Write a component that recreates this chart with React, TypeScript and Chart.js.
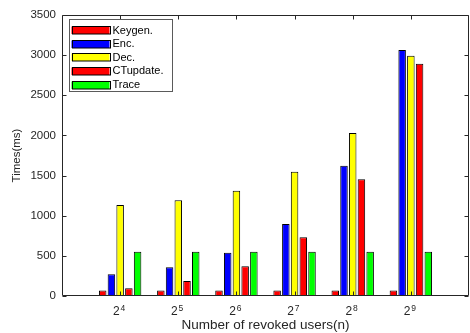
import React, { useEffect, useRef } from 'react';
import { Chart, registerables } from 'chart.js';

Chart.register(...registerables);

// x categories: exponents of 2 (empty edges pad the axis like the reference)
const exponents = ['', '4', '5', '6', '7', '8', '9', ''];
const keygen = [null, 70, 70, 70, 70, 70, 70, null];
const enc = [null, 270, 357, 539, 897, 1623, 3064, null];
const dec = [null, 1133, 1192, 1311, 1548, 2030, 2993, null];
const ctupdate = [null, 96, 187, 370, 731, 1453, 2893, null];
const trace = [null, 552, 552, 552, 552, 552, 552, null];
const seriesNames = ['Keygen.', 'Enc.', 'Dec.', 'CTupdate.', 'Trace'];
const seriesColors = ['#ff0000', '#0000ff', '#ffff00', '#ff0000', '#00ff00'];
const yMax = 3500;
const yStep = 500;

const FONT = '"Liberation Sans", Arial, Helvetica, sans-serif';
const AXIS = '#262626';

const framePlugin = {
  id: 'matlabFrame',
  afterDraw(chart: any) {
    const { ctx, chartArea } = chart;
    const { left, right, top, bottom } = chartArea;
    const xs = chart.scales.x;
    const ys = chart.scales.y;
    ctx.save();
    ctx.strokeStyle = AXIS;
    ctx.lineWidth = 1;
    const L = Math.round(left) + 0.5;
    const R = Math.round(right) - 0.5;
    const T = Math.round(top) + 0.5;
    const B = Math.round(bottom) - 0.5;
    ctx.beginPath();
    ctx.rect(L, T, R - L, B - T);
    ctx.stroke();
    const tl = 4;
    ctx.beginPath();
    for (let v = 0; v <= yMax; v += yStep) {
      const y = Math.round(ys.getPixelForValue(v)) + 0.5;
      ctx.moveTo(L, y); ctx.lineTo(L + tl, y);
      ctx.moveTo(R, y); ctx.lineTo(R - tl, y);
    }
    for (let i = 0; i < exponents.length; i++) {
      if (!exponents[i]) continue;
      const x = Math.round(xs.getPixelForValue(i)) + 0.5;
      ctx.moveTo(x, B); ctx.lineTo(x, B - tl);
      ctx.moveTo(x, T); ctx.lineTo(x, T + tl);
    }
    ctx.stroke();

    // x tick labels 2^n with superscript
    ctx.fillStyle = AXIS;
    ctx.textBaseline = 'alphabetic';
    for (let i = 0; i < exponents.length; i++) {
      if (!exponents[i]) continue;
      const x = xs.getPixelForValue(i);
      ctx.font = `12px ${FONT}`;
      const bw = ctx.measureText('2').width;
      ctx.font = `8.5px ${FONT}`;
      const ew = ctx.measureText(exponents[i]).width;
      const x0 = x - (bw + ew) / 2 - 1.5;
      ctx.font = `12px ${FONT}`;
      ctx.textAlign = 'left';
      ctx.fillText('2', x0, bottom + 19);
      ctx.font = `8.5px ${FONT}`;
      ctx.fillText(exponents[i], x0 + bw + 0.8, bottom + 14.5);
    }

    // legend box
    const lx = left + 7, ly = top + 4, lw = 103, lh = 72;
    ctx.fillStyle = '#ffffff';
    ctx.fillRect(lx, ly, lw, lh);
    ctx.strokeStyle = '#5a5a5a';
    ctx.strokeRect(Math.round(lx) + 0.5, Math.round(ly) + 0.5, lw, lh);
    ctx.font = `11px ${FONT}`;
    ctx.textBaseline = 'middle';
    ctx.textAlign = 'left';
    chart.data.datasets.forEach((ds: any, i: number) => {
      const cy = ly + 11 + i * 13.6;
      const sx = lx + 2.5, sw = 38, sh = 7.5;
      ctx.fillStyle = ds.backgroundColor;
      ctx.fillRect(sx, Math.round(cy - sh / 2) + 0.5, sw, sh);
      ctx.strokeStyle = '#000';
      ctx.strokeRect(Math.round(sx) + 0.5, Math.round(cy - sh / 2) + 0.5, sw, sh);
      ctx.fillStyle = '#000';
      ctx.fillText(ds.label, sx + sw + 3, cy + 0.5);
    });
    ctx.restore();
  },
};

export default function App() {
  const ref = useRef<HTMLCanvasElement>(null);
  useEffect(() => {
    document.body.style.margin = '0';
    const values = [keygen, enc, dec, ctupdate, trace];
    const chart = new Chart(ref.current!, {
      type: 'bar',
      data: {
        labels: exponents.map((e) => (e ? '2^' + e : '')),
        datasets: values.map((d, i) => ({
          label: seriesNames[i],
          data: d,
          backgroundColor: seriesColors[i],
          borderColor: '#000000',
          borderWidth: 1,
          categoryPercentage: 0.75,
          barPercentage: 0.86,
        })),
      },
      options: {
        animation: false,
        responsive: false,
        maintainAspectRatio: false,
        layout: { padding: { top: 15, right: 1, left: 0, bottom: 0 } },
        plugins: { legend: { display: false }, tooltip: { enabled: false } },
        scales: {
          x: {
            offset: false,
            grid: { display: false, drawTicks: false },
            border: { display: false },
            ticks: { display: false },
            title: {
              display: true,
              text: 'Number of revoked users(n)',
              color: AXIS,
              font: { family: FONT, size: 13.5 },
              padding: { top: 0, bottom: 0 },
            },
            afterFit(scale: any) { scale.height = 37; },
          },
          y: {
            min: 0,
            max: yMax,
            grid: { display: false, drawTicks: false },
            border: { display: false },
            ticks: {
              stepSize: yStep,
              color: AXIS,
              padding: 6,
              font: { family: FONT, size: 11.5 },
              callback: (v: any) => String(v),
            },
            title: {
              display: true,
              text: 'Times(ms)',
              color: AXIS,
              font: { family: FONT, size: 11.5 },
              padding: { top: 10, bottom: 0 },
            },
            afterFit(scale: any) { scale.width = 62; },
          },
        },
      },
      plugins: [framePlugin],
    });
    return () => chart.destroy();
  }, []);
  return (
    <div style={{ width: 470, height: 333 }}>
      <canvas ref={ref} width={470} height={333} style={{ display: 'block' }} />
    </div>
  );
}
